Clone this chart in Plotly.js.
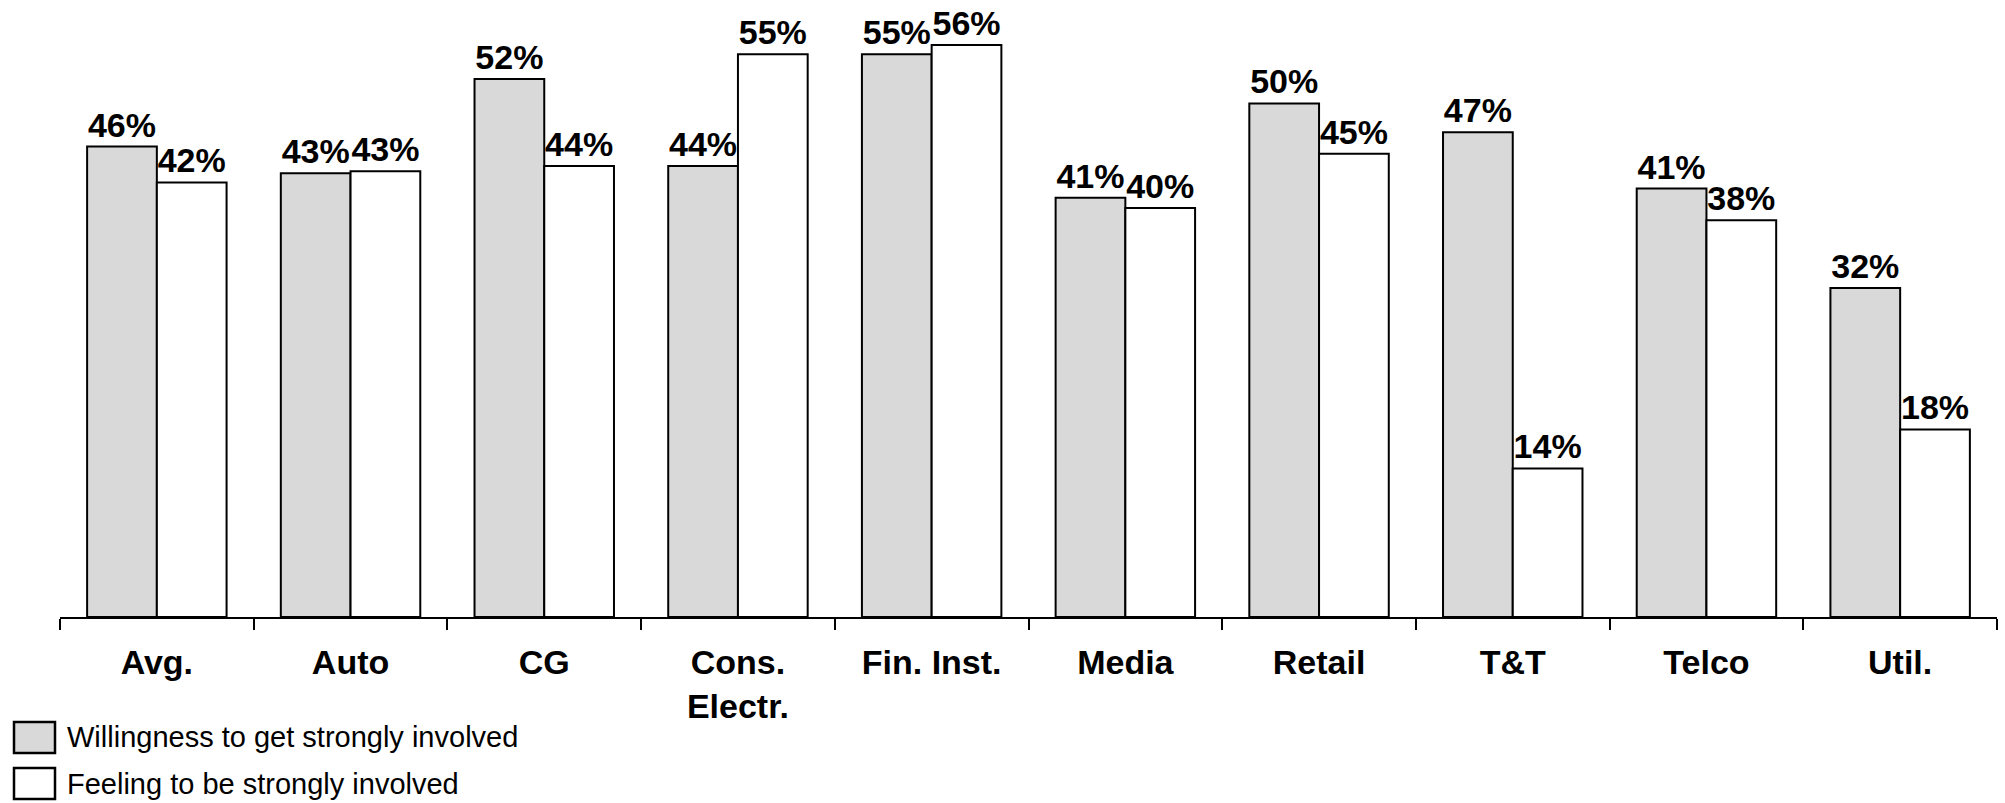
<!DOCTYPE html>
<html>
<head>
<meta charset="utf-8">
<script src="https://cdn.plot.ly/plotly-3.0.1.min.js"></script>
<style>html,body{margin:0;padding:0;background:#fff;}#chart{width:2005px;height:803px;}</style>
</head>
<body>
<div id="chart"></div>
<script>
const categories = ["Avg.", "Auto", "CG", "Cons.<br>Electr.", "Fin. Inst.", "Media", "Retail", "T&T", "Telco", "Util."];
const seriesNames = ["Willingness to get strongly involved", "Feeling to be strongly involved"];
const willingness = [45.9, 43.3, 52.5, 44.0, 54.9, 40.9, 50.1, 47.3, 41.8, 32.1];
const feeling = [42.4, 43.5, 44.0, 54.9, 55.8, 39.9, 45.2, 14.5, 38.7, 18.3];
const willingnessLabels = ["46%", "43%", "52%", "44%", "55%", "41%", "50%", "47%", "41%", "32%"];
const feelingLabels = ["42%", "43%", "44%", "55%", "56%", "40%", "45%", "14%", "38%", "18%"];
const seriesColors = ["#d9d9d9", "#ffffff"];

const W = 2005, H = 803;
const M = {l: 60, r: 8, t: 2, b: 186};
const plotW = W - M.l - M.r, plotH = H - M.t - M.b;
const px = x => (x - M.l) / plotW;
const py = y => (H - M.b - y) / plotH;

const labelFont = {family: "Liberation Sans, Arial, sans-serif", size: 34, color: "#000", weight: "bold"};

function barTrace(name, values, labels, color) {
  return {
    type: "bar", name: name, x: categories, y: values,
    text: labels, textposition: "outside", constraintext: "none", cliponaxis: false,
    textfont: labelFont,
    marker: {color: color, line: {color: "#000", width: 2}},
    hoverinfo: "skip", showlegend: false
  };
}

const data = [
  barTrace(seriesNames[0], willingness, willingnessLabels, seriesColors[0]),
  barTrace(seriesNames[1], feeling, feelingLabels, seriesColors[1])
];

const legendFont = {family: "Liberation Sans, Arial, sans-serif", size: 29, color: "#000"};
const legendRows = [{top: 722, bottom: 753}, {top: 768, bottom: 799}];
const shapes = [], annotations = [];
legendRows.forEach((r, i) => {
  shapes.push({type: "rect", xref: "paper", yref: "paper",
    x0: px(14), x1: px(55), y0: py(r.bottom), y1: py(r.top),
    fillcolor: seriesColors[i], line: {color: "#000", width: 2.5}});
  annotations.push({xref: "paper", yref: "paper", x: px(65), y: py((r.top + r.bottom) / 2),
    xanchor: "left", yanchor: "middle", showarrow: false, text: seriesNames[i], font: legendFont});
});

const layout = {
  width: W, height: H,
  margin: M,
  paper_bgcolor: "#fff", plot_bgcolor: "#fff",
  barmode: "group", bargap: 0.28, bargroupgap: 0,
  font: {family: "Liberation Sans, Arial, sans-serif", color: "#000"},
  xaxis: {
    type: "category", range: [-0.5, 9.5], fixedrange: true,
    showline: true, linecolor: "#000", linewidth: 2,
    ticks: "outside", tickson: "boundaries", ticklen: 11, tickwidth: 2, tickcolor: "#000",
    ticklabelstandoff: 14,
    tickfont: labelFont, showgrid: false, zeroline: false, automargin: false
  },
  yaxis: {range: [0, 60], visible: false, showgrid: false, zeroline: false, fixedrange: true},
  shapes: shapes, annotations: annotations,
  showlegend: false
};

Plotly.newPlot("chart", data, layout, {staticPlot: true, displayModeBar: false});
</script>
</body>
</html>
